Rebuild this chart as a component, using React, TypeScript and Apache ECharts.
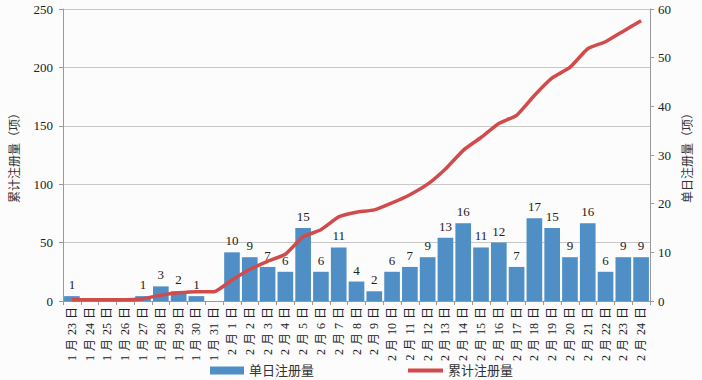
import React, { useEffect, useRef } from "react";
import * as echarts from "echarts";

const categories = [
  "1月23日","1月24日","1月25日","1月26日","1月27日","1月28日","1月29日","1月30日","1月31日",
  "2月1日","2月2日","2月3日","2月4日","2月5日","2月6日","2月7日","2月8日","2月9日","2月10日",
  "2月11日","2月12日","2月13日","2月14日","2月15日","2月16日","2月17日","2月18日","2月19日",
  "2月20日","2月21日","2月22日","2月23日","2月24日",
];
const dailyValues = [1,0,0,0,1,3,2,1,0,10,9,7,6,15,6,11,4,2,6,7,9,13,16,11,12,7,17,15,9,16,6,9,9];
const cumulativeValues = [1,1,1,1,2,5,7,8,8,18,27,34,40,55,61,72,76,78,84,91,100,113,129,140,152,159,176,191,200,216,222,231,240];
const leftTicks = { min: 0, max: 250, interval: 50 };
const rightTicks = { min: 0, max: 60, interval: 10 };

const FONT = "Times New Roman, Liberation Serif, Noto Sans CJK SC, serif";
const GAP = "\u2004";

export default function App() {
  const ref = useRef<HTMLDivElement>(null);
  useEffect(() => {
    document.body.style.margin = "0";
    const chart = echarts.init(ref.current!, null, { renderer: "svg" });
    chart.setOption({
      animation: false,
      backgroundColor: "#fcfcfc",
      textStyle: { fontFamily: FONT },
      grid: { left: 63, right: 49, top: 9, bottom: 79, containLabel: false },
      legend: [
        {
          top: 359,
          left: 205,
          itemWidth: 34,
          itemHeight: 8,
          textStyle: { fontFamily: FONT, fontSize: 13, color: "#333" },
          data: [{ name: "单日注册量", icon: "rect" }],
        },
        {
          top: 359,
          left: 403,
          itemWidth: 35,
          itemHeight: 4,
          textStyle: { fontFamily: FONT, fontSize: 13, color: "#333" },
          data: [{ name: "累计注册量", icon: "rect" }],
        },
      ],
      xAxis: {
        type: "category",
        data: categories,
        boundaryGap: true,
        axisLine: { lineStyle: { color: "#999" } },
        axisTick: { show: true, alignWithLabel: false, length: 4, lineStyle: { color: "#999" } },
        axisLabel: {
          rotate: 90,
          interval: 0,
          margin: 6,
          fontSize: 12,
          color: "#222",
          fontFamily: FONT,
          formatter: (v: string) => v.replace("月", GAP + "月" + GAP).replace("日", GAP + "日"),
        },
      },
      yAxis: [
        {
          type: "value",
          ...leftTicks,
          name: "累计注册量（项）",
          nameLocation: "middle",
          nameGap: 42,
          nameRotate: 90,
          nameTextStyle: { fontSize: 12, color: "#333", fontFamily: FONT },
          axisLine: { show: true, lineStyle: { color: "#999" } },
          axisTick: { show: true, length: 4, lineStyle: { color: "#999" } },
          axisLabel: { fontSize: 13, color: "#222", margin: 10, fontFamily: FONT },
          splitLine: { lineStyle: { color: "#c8c8c8" } },
        },
        {
          type: "value",
          ...rightTicks,
          name: "单日注册量（项）",
          nameLocation: "middle",
          nameGap: 32,
          nameRotate: 90,
          nameTextStyle: { fontSize: 12, color: "#333", fontFamily: FONT },
          axisLine: { show: true, lineStyle: { color: "#999" } },
          axisTick: { show: true, length: 4, lineStyle: { color: "#999" } },
          axisLabel: { fontSize: 13, color: "#222", margin: 8, fontFamily: FONT },
          splitLine: { show: false },
        },
      ],
      series: [
        {
          name: "单日注册量",
          type: "bar",
          yAxisIndex: 1,
          data: dailyValues,
          barCategoryGap: "12%",
          itemStyle: { color: "#4f8fc6" },
          label: {
            show: true,
            position: "top",
            distance: 5,
            fontSize: 13,
            color: "#222",
            fontFamily: FONT,
            formatter: (p: any) => (p.value === 0 ? "" : String(p.value)),
          },
        },
        {
          name: "累计注册量",
          type: "line",
          yAxisIndex: 0,
          data: cumulativeValues,
          symbol: "none",
          showSymbol: false,
          smooth: 0.15,
          lineStyle: { color: "#d24b4b", width: 3.5 },
          itemStyle: { color: "#d24b4b" },
        },
      ],
    });
    return () => chart.dispose();
  }, []);
  return <div ref={ref} style={{ width: 702, height: 380 }} />;
}
